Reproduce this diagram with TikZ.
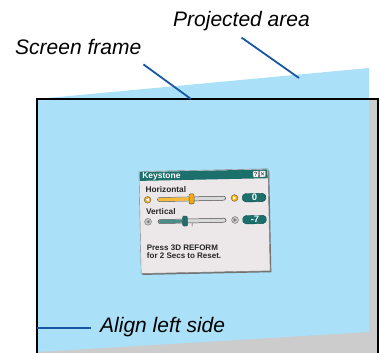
\documentclass[tikz,border=0pt]{standalone}
\usepackage{fontspec}
\setmainfont{Liberation Sans}
\usetikzlibrary{calc}

\definecolor{projblue}{RGB}{170,224,248}
\definecolor{wallgray}{RGB}{204,204,204}
\definecolor{leadblue}{RGB}{24,86,164}
\definecolor{osdface}{RGB}{236,232,234}
\definecolor{osdteal}{RGB}{27,112,108}
\definecolor{osdorange}{RGB}{244,170,10}

\begin{document}
\begin{tikzpicture}[x=1pt, y=-1pt,
    callout/.style={inner sep=0pt, anchor=base west, font=\fontsize{21}{25}\selectfont\itshape},
    leader/.style={leadblue, line width=1.8pt},
    osdfont/.style={inner sep=0pt, anchor=west, black!85, font=\fontsize{#1}{10}\selectfont\bfseries},
    valbox/.style={fill=osdteal, draw=osdteal!70!black, line width=0.4pt, rounded corners=1.5pt}]
  \useasboundingbox (0,0) rectangle (380,353);

  % wall behind the frame and the keystoned image
  \fill[wallgray] (37,99) rectangle (378,353);
  \fill[projblue] (37,99) -- (369,68) -- (369,332) -- (37,352) -- cycle;
  \draw[line width=2.2pt] (37,353) -- (37,99) -- (378,99) -- (378,353);

  % keystone menu
  \begin{scope}[shift={(139,171.5)}, rotate=1.2]
    \fill[black!55] (1.2,1.5) rectangle (130.2,103.5);
    \filldraw[fill=osdface, draw=black!50, line width=0.4pt] (0,0) rectangle (129,102);
    \fill[osdteal] (0.6,0.6) rectangle (128.4,9.4);
    \node[osdfont=8.5, white] (title) at (3,5) {Keystone};
    \filldraw[fill=white, draw=black!60, line width=0.3pt] (114,2) rectangle (119.5,8) (120.5,2) rectangle (126.5,8);
    \node[inner sep=0pt, font=\fontsize{6}{6}\selectfont\bfseries, black!70] (helpicon) at (116.75,5) {?};
    \draw[black!70, line width=0.6pt] (122,3.5) -- (125,6.5) (122,6.5) -- (125,3.5);
    \node[osdfont=8.3] (horiz) at (6,18) {Horizontal};
    \node[osdfont=8.3] (vert) at (6,40) {Vertical};
    \foreach \yy/\tx/\col/\btn/\tri/\val/\nm in {28.5/52/osdorange/osdorange/white/0/hval,
                                                 50.5/45/osdteal/black!20/black!55/-7/vval} {
      % buttons
      \filldraw[fill=\btn, draw=black!60, line width=0.4pt] (8,\yy) circle (3.4pt) (95,\yy) circle (3.4pt);
      \fill[\tri] (6.4,\yy) -- (9.4,\yy-1.8) -- (9.4,\yy+1.8) -- cycle;
      \fill[\tri] (96.6,\yy) -- (93.6,\yy-1.8) -- (93.6,\yy+1.8) -- cycle;
      % slider
      \filldraw[fill=white!85!black, draw=black!70, line width=0.5pt, rounded corners=2pt] (18,\yy-2) rectangle (86,\yy+2);
      \fill[\col!80, rounded corners=1.5pt] (18.4,\yy-1.6) rectangle (\tx,\yy+1.6);
      \draw[black!70, line width=0.4pt] (52,\yy+2) -- (52,\yy+5.5);
      \filldraw[fill=\col, draw=black!70, line width=0.4pt, rounded corners=1pt] (\tx-2.5,\yy-5) rectangle (\tx+2.5,\yy+5);
      % value
      \path[valbox] (102,\yy) -- (104.5,\yy-4.2) -- (124.5,\yy-4.2) -- (127,\yy) -- (124.5,\yy+4.2) -- (104.5,\yy+4.2) -- cycle;
      \node[inner sep=0pt, white, font=\fontsize{9.5}{10}\selectfont\bfseries] (\nm) at (115,\yy) {\val};
    }
    \node[osdfont=8] (press) at (6,76.5) {Press 3D REFORM};
    \node[osdfont=8] (reset) at (6,84.5) {for 2 Secs to Reset.};
  \end{scope}

  % callouts
  \node[callout] (projlbl) at (173,27) {Projected area};
  \node[callout] (framelbl) at (15,54.5) {Screen frame};
  \node[callout] (alignlbl) at (100,332.5) {Align left side};
  \coordinate (projpt) at (299,78);
  \coordinate (framept) at (191,99);
  \coordinate (alignpt) at (37,328);
  \draw[leader] ([yshift=-6pt]projlbl.south) -- (projpt);
  \draw[leader] ([shift={(2pt,-9.5pt)}]framelbl.south east) -- (framept);
  \draw[leader] (alignpt) -- ($(alignpt -| alignlbl.west)+(-9,0)$);
\end{tikzpicture}
\end{document}
